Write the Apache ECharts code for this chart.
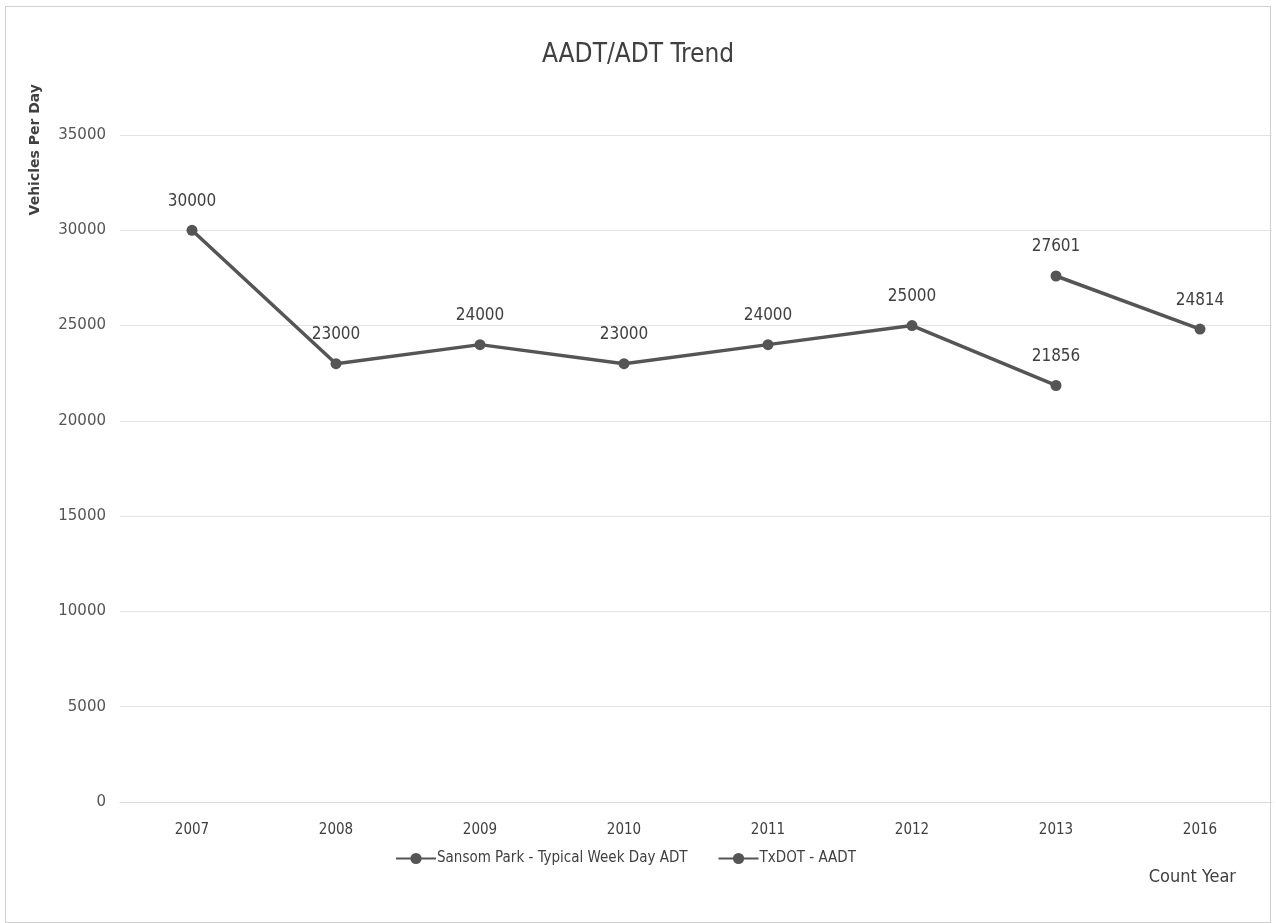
<!DOCTYPE html>
<html>
	<head>
		<meta charset="utf-8">
		<title>AADT/ADT Trend</title>
		<style type="text/css">
			* {
				margin: 0;
				padding: 0;
			}

			html,
			body {
				width: 100%;
				height: 100%;
				background: #fff;
			}

			#frame {
				position: absolute;
				left: 5px;
				top: 6px;
				width: 1266px;
				height: 917px;
				border: 1px solid #cfcfcf;
				box-sizing: border-box;
			}

			#chart {
				position: absolute;
				left: 0;
				top: 0;
				width: 1276px;
				height: 923px;
			}
		</style>
	</head>
	<body>
		<div id="frame"></div>
		<div id="chart"></div>
		<script src="https://cdn.jsdelivr.net/npm/echarts@6/dist/echarts.min.js"></script>
		<script>
			var years = ['2007', '2008', '2009', '2010', '2011', '2012', '2013', '2016']
			var sansomPark = [30000, 23000, 24000, 23000, 24000, 25000, 21856, null]
			var txdot = [null, null, null, null, null, null, 27601, 24814]

			var narrow = '"Liberation Sans Narrow", "DejaVu Sans Condensed", "Open Sans", sans-serif'

			function lineSeries(name, data) {
				return {
					name: name,
					type: 'line',
					data: data,
					connectNulls: false,
					symbol: 'circle',
					symbolSize: 11,
					lineStyle: {
						color: '#555555',
						width: 3.5
					},
					itemStyle: {
						color: '#555555'
					},
					label: {
						show: true,
						position: 'top',
						distance: 15,
						color: '#404040',
						fontSize: 17,
						fontFamily: narrow
					}
				}
			}

			var myChart = echarts.init(document.getElementById('chart'));
			var option = {
				animation: false,
				title: {
					text: 'AADT/ADT Trend',
					left: 'center',
					top: 37,
					textStyle: {
						color: '#404040',
						fontSize: 26,
						fontWeight: 'normal',
						fontFamily: narrow
					}
				},
				graphic: [{
					type: 'text',
					left: 28,
					top: 84,
					rotation: Math.PI / 2,
					style: {
						text: 'Vehicles Per Day',
						fill: '#404040',
						font: 'bold 14px "DejaVu Sans", sans-serif'
					}
				}],
				legend: {
					bottom: 52,
					left: 390,
					itemGap: 30,
					itemWidth: 40,
					itemHeight: 14,
					textStyle: {
						color: '#404040',
						fontSize: 15,
						fontFamily: narrow,
						padding: [0, 0, 0, -4]
					},
					data: ['Sansom Park - Typical Week Day ADT', 'TxDOT - AADT']
				},
				grid: {
					left: 120,
					right: 4,
					top: 135,
					bottom: 121,
					containLabel: false,
					outerBoundsMode: 'none'
				},
				xAxis: {
					type: 'category',
					data: years,
					name: 'Count Year',
					nameLocation: 'end',
					nameGap: 0,
					nameTextStyle: {
						color: '#404040',
						fontSize: 18,
						fontFamily: narrow,
						align: 'right',
						verticalAlign: 'top',
						padding: [66, 36, 0, 0]
					},
					axisLine: {
						lineStyle: {
							color: '#d9d9d9'
						}
					},
					axisTick: {
						show: false
					},
					axisLabel: {
						color: '#404040',
						fontSize: 15,
						fontFamily: narrow,
						margin: 21
					}
				},
				yAxis: {
					type: 'value',
					min: 0,
					max: 35000,
					interval: 5000,
					axisLine: {
						show: false
					},
					axisTick: {
						show: false
					},
					axisLabel: {
						color: '#555555',
						fontSize: 15,
						fontFamily: '"DejaVu Sans", sans-serif',
						margin: 14,
						formatter: function(v) {
							return String(v)
						}
					},
					splitLine: {
						lineStyle: {
							color: '#e3e3e3'
						}
					}
				},
				series: [
					lineSeries('Sansom Park - Typical Week Day ADT', sansomPark),
					lineSeries('TxDOT - AADT', txdot)
				]
			};
			myChart.setOption(option);
		</script>
	</body>
</html>
